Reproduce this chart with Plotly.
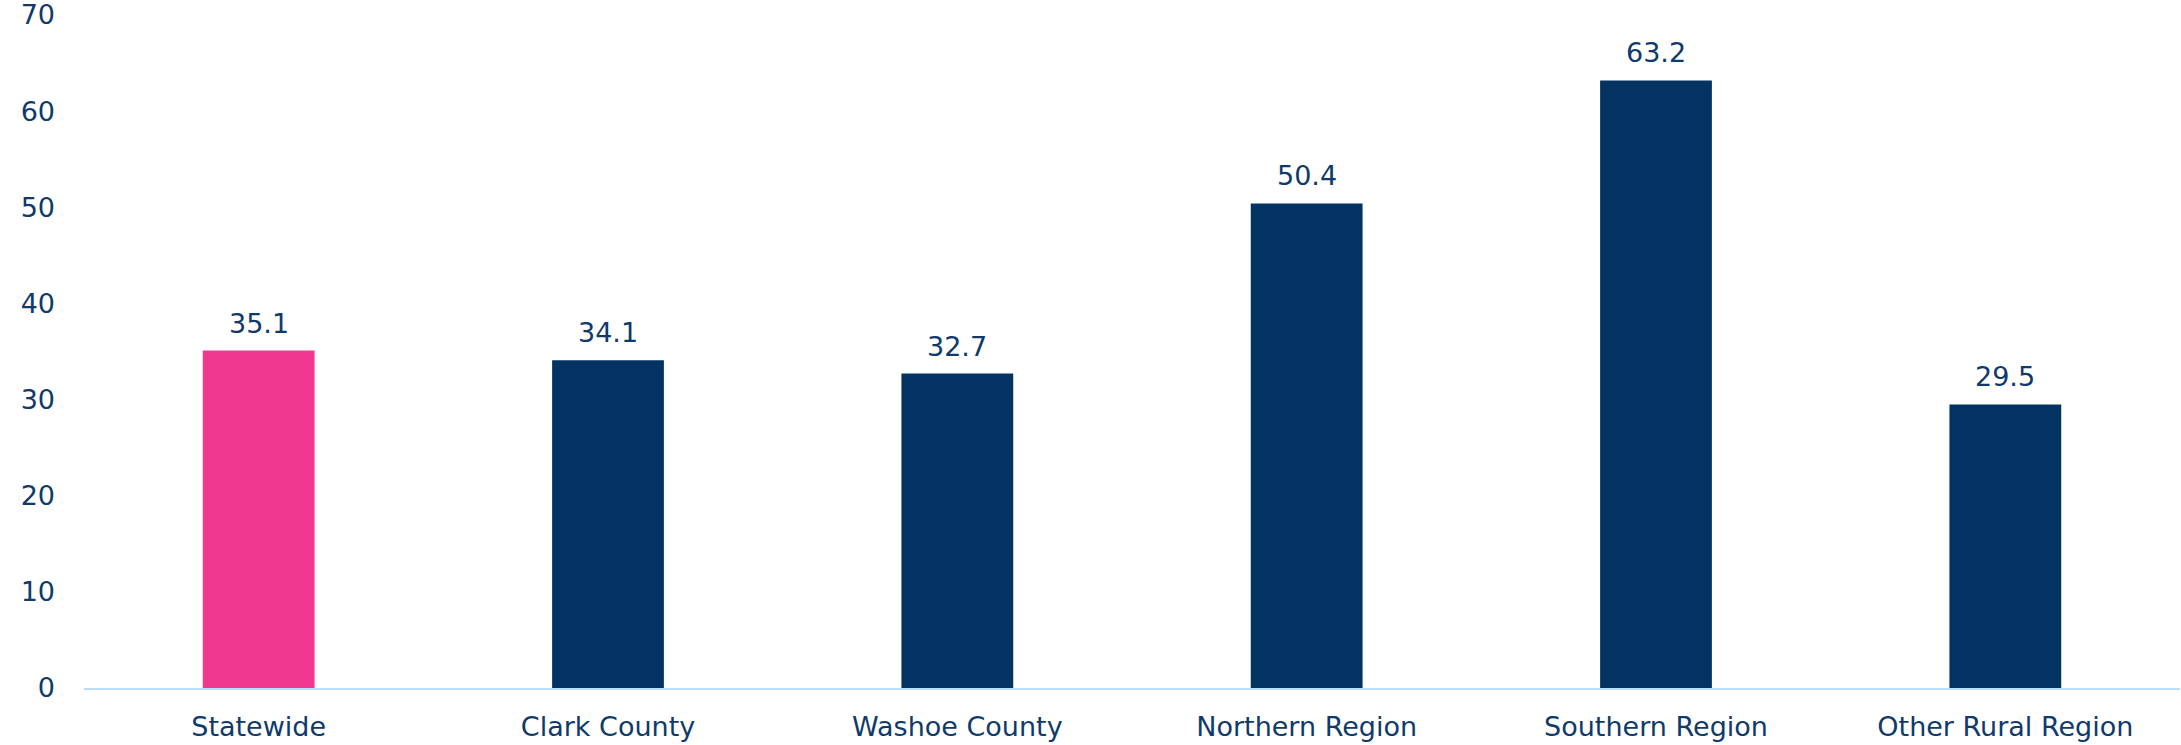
import plotly.graph_objects as go

categories = ["Statewide", "Clark County", "Washoe County", "Northern Region", "Southern Region", "Other Rural Region"]
values = [35.1, 34.1, 32.7, 50.4, 63.2, 29.5]
bar_colors = ["#F03891", "#023362", "#023362", "#023362", "#023362", "#023362"]
y_ticks = [0, 10, 20, 30, 40, 50, 60, 70]

text_color = "#0F3A6B"
font_family = "DejaVu Sans, sans-serif"
fsize = 27

fig = go.Figure()
fig.add_trace(go.Bar(
    x=categories, y=values,
    marker=dict(color=bar_colors, line=dict(width=0)),
    hoverinfo="skip",
))

for c, v in zip(categories, values):
    fig.add_annotation(x=c, y=v, text=f"{v:.1f}", showarrow=False,
                       yanchor="bottom", yshift=10,
                       font=dict(size=fsize, color=text_color, family=font_family))

fig.update_layout(
    width=2181, height=745,
    margin=dict(l=84, r=1, t=15, b=57),
    plot_bgcolor="white", paper_bgcolor="white",
    bargap=0.68,
    showlegend=False,
    font=dict(family=font_family, color=text_color, size=fsize),
)
fig.update_xaxes(
    showline=True, linecolor="#BDDCF5", linewidth=2,
    showgrid=False, ticks="", ticklabelstandoff=14, automargin=False,
    tickfont=dict(size=fsize, color=text_color),
)
fig.update_yaxes(
    range=[0, 70], tickvals=y_ticks, showgrid=False, zeroline=False,
    showline=False, ticks="", ticklabelstandoff=28, automargin=False,
    ticklabeloverflow="allow",
    tickfont=dict(size=fsize, color=text_color),
)

fig.write_html(
    "out.html",
    config={"displayModeBar": False},
    post_script="document.body.style.margin='0';document.body.style.overflow='hidden';",
)
